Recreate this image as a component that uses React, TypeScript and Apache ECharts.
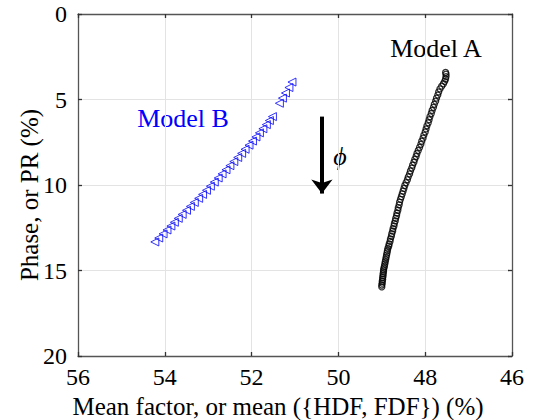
import React, { useEffect, useRef } from "react";
import * as echarts from "echarts";

const xTicks = [46, 48, 50, 52, 54, 56];
const yTicks = [0, 5, 10, 15, 20];

const modelBX = [
  54.23, 54.14, 54.04, 53.95, 53.86, 53.78, 53.69, 53.6, 53.5, 53.41, 53.32, 53.22,
  53.13, 53.04, 52.95, 52.86, 52.77, 52.68, 52.59, 52.5, 52.41, 52.32, 52.23, 52.15,
  52.06, 51.98, 51.9, 51.82, 51.74, 51.66, 51.59, 51.52,
  51.36, 51.29, 51.22, 51.14, 51.07,
];
const modelBY = [
  13.33, 13.1, 12.86, 12.63, 12.4, 12.18, 11.95, 11.72, 11.48, 11.25, 11.02, 10.78,
  10.55, 10.31, 10.07, 9.83, 9.59, 9.35, 9.11, 8.87, 8.63, 8.39, 8.15, 7.91,
  7.67, 7.43, 7.19, 6.95, 6.71, 6.47, 6.23, 6.0,
  5.22, 4.92, 4.62, 4.3, 3.98,
];

const modelAX = [
  49.0, 49.0, 48.99, 48.99, 48.98, 48.98, 48.97, 48.97, 48.96, 48.96, 48.95, 48.94,
  48.93, 48.92, 48.91, 48.9, 48.89, 48.88, 48.87, 48.86, 48.84, 48.83, 48.81, 48.8,
  48.78, 48.77, 48.75, 48.74, 48.72, 48.71, 48.69, 48.68, 48.66, 48.65, 48.63, 48.62,
  48.6, 48.59, 48.57, 48.55, 48.53, 48.51, 48.49, 48.47, 48.44, 48.41, 48.39, 48.36,
  48.34, 48.31, 48.29, 48.26, 48.24, 48.21, 48.19, 48.16, 48.13, 48.1, 48.08, 48.05,
  48.03, 48.0, 47.98, 47.96, 47.93, 47.91, 47.89, 47.86, 47.84, 47.81, 47.79, 47.76,
  47.74, 47.71, 47.69, 47.66, 47.62, 47.58, 47.55, 47.53, 47.52, 47.52, 47.53,
];
const modelAY = [
  15.96, 15.85, 15.74, 15.63, 15.52, 15.41, 15.3, 15.19, 15.08, 14.97, 14.86, 14.75,
  14.62, 14.49, 14.36, 14.23, 14.1, 13.97, 13.84, 13.71, 13.58, 13.45, 13.3, 13.15,
  13.0, 12.85, 12.7, 12.55, 12.4, 12.25, 12.1, 11.95, 11.8, 11.64, 11.48, 11.32,
  11.16, 11.0, 10.84, 10.68, 10.52, 10.36, 10.2, 10.03, 9.86, 9.69, 9.52, 9.35,
  9.18, 9.01, 8.84, 8.67, 8.5, 8.33, 8.16, 7.98, 7.8, 7.62, 7.44, 7.26,
  7.08, 6.9, 6.72, 6.54, 6.36, 6.18, 6.0, 5.82, 5.64, 5.46, 5.28, 5.1,
  4.92, 4.74, 4.56, 4.38, 4.22, 4.08, 3.94, 3.8, 3.66, 3.52, 3.42,
];

const arrowX = 50.38;
const arrowFromY = 6.0;
const arrowToY = 10.5;

const FONT = "Liberation Serif, Times New Roman, serif";

export default function App() {
  const ref = useRef<HTMLDivElement>(null);
  useEffect(() => {
    if (!ref.current) return;
    const chart = echarts.init(ref.current, undefined, { renderer: "svg" });
    const lineColor = "#555";
    const baseAxis = {
      type: "value" as const,
      axisLine: { show: true, onZero: false, lineStyle: { color: lineColor, width: 1.3 } },
      axisTick: { show: true, inside: true, length: 4, lineStyle: { color: "#333", width: 1.3 } },
    };
    chart.setOption({
      animation: false,
      backgroundColor: "#fff",
      textStyle: { fontFamily: FONT },
      grid: { left: 78, right: 23, top: 14, bottom: 64, containLabel: false, outerBoundsMode: "none" },
      xAxis: [
        {
          ...baseAxis,
          position: "bottom",
          min: xTicks[0],
          max: xTicks[xTicks.length - 1],
          interval: 2,
          inverse: true,
          axisLabel: { color: "#000", fontFamily: FONT, fontSize: 24, margin: 9 },
          splitLine: { show: true, lineStyle: { color: "#e3e3e3", width: 1 } },
          name: "Mean factor, or mean ({HDF, FDF}) (%)",
          nameLocation: "middle",
          nameGap: 30,
          nameTextStyle: { color: "#000", fontFamily: FONT, fontSize: 25, padding: [0, 34, 0, 0] },
        },
        {
          ...baseAxis,
          position: "top",
          min: xTicks[0],
          max: xTicks[xTicks.length - 1],
          interval: 2,
          inverse: true,
          axisLabel: { show: false },
          splitLine: { show: false },
        },
      ],
      yAxis: [
        {
          ...baseAxis,
          position: "left",
          min: yTicks[0],
          max: yTicks[yTicks.length - 1],
          interval: 5,
          inverse: true,
          axisLabel: { color: "#000", fontFamily: FONT, fontSize: 24, margin: 11 },
          splitLine: { show: true, lineStyle: { color: "#e3e3e3", width: 1 } },
        },
        {
          ...baseAxis,
          position: "right",
          min: yTicks[0],
          max: yTicks[yTicks.length - 1],
          interval: 5,
          inverse: true,
          axisLabel: { show: false },
          splitLine: { show: false },
        },
      ],
      series: [
        {
          type: "scatter",
          name: "Model B",
          data: modelBX.map((x, i) => [x, modelBY[i]]),
          symbol: "triangle",
          symbolRotate: 90,
          symbolSize: 8,
          itemStyle: { color: "rgba(0,0,0,0)", borderColor: "#0000ff", borderWidth: 1 },
          markLine: {
            silent: true,
            symbol: ["none", "arrow"],
            symbolSize: [16, 14],
            label: { show: false },
            lineStyle: { color: "#000", width: 4, type: "solid" },
            data: [[{ coord: [arrowX, arrowFromY] }, { coord: [arrowX, arrowToY] }]],
          },
        },
        {
          type: "scatter",
          name: "Model A",
          data: modelAX.map((x, i) => [x, modelAY[i]]),
          symbol: "circle",
          symbolSize: 6,
          itemStyle: { color: "rgba(0,0,0,0)", borderColor: "#000", borderWidth: 1.3 },
        },
      ],
      graphic: [
        {
          type: "text",
          x: 29,
          y: 195,
          rotation: Math.PI / 2,
          style: { text: "Phase, or PR (%)", fill: "#000", fontFamily: FONT, fontSize: 25, align: "center", verticalAlign: "middle" },
        },
        {
          type: "text",
          x: 436,
          y: 48,
          style: { text: "Model A", fill: "#000", fontFamily: FONT, fontSize: 26, align: "center", verticalAlign: "middle" },
        },
        {
          type: "text",
          x: 183,
          y: 118,
          style: { text: "Model B", fill: "#0000ff", fontFamily: FONT, fontSize: 26, align: "center", verticalAlign: "middle" },
        },
        {
          type: "text",
          x: 340,
          y: 156,
          style: { text: "ϕ", fill: "#000", fontFamily: FONT, fontStyle: "italic", fontSize: 26, align: "center", verticalAlign: "middle" },
        },
      ],
    });
    return () => chart.dispose();
  }, []);
  return <div ref={ref} style={{ position: "fixed", left: 0, top: 0, width: 535, height: 420 }} />;
}
